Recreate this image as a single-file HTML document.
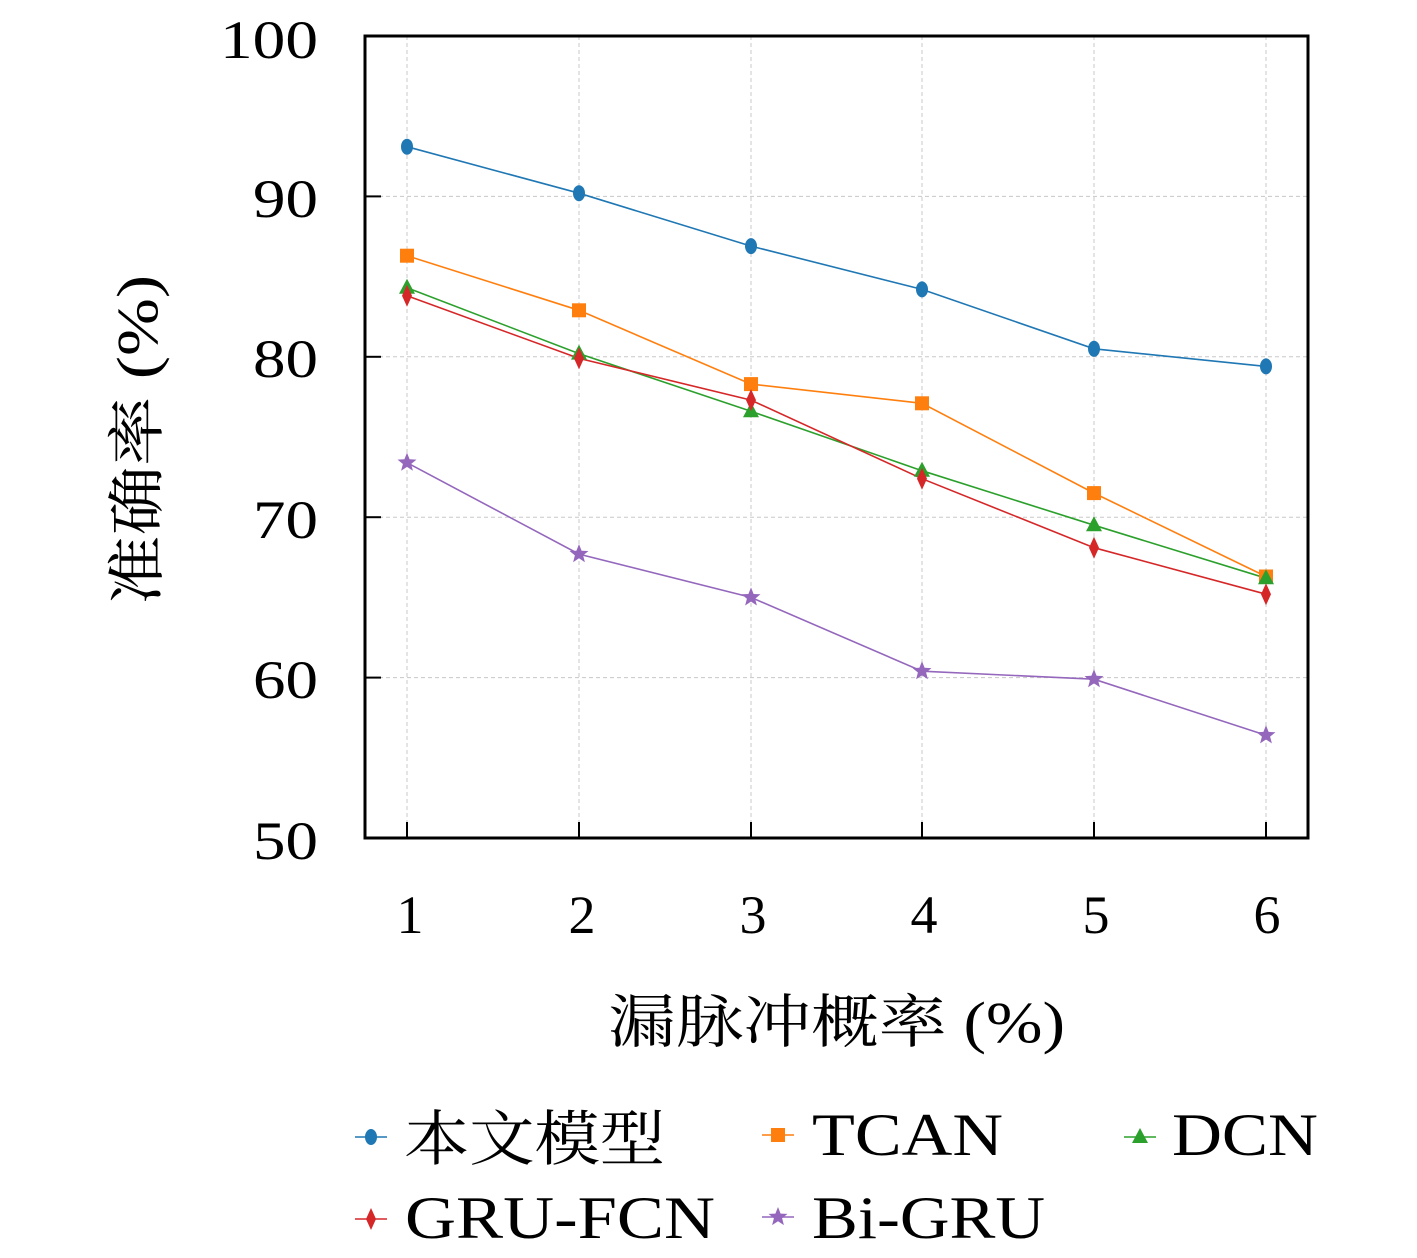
<!DOCTYPE html>
<html><head><meta charset="utf-8"><style>
html,body{margin:0;padding:0;background:#fff;}
svg{display:block;}
text{font-family:"Liberation Serif","Noto Serif CJK SC",serif;fill:#000;}
</style></head><body>
<svg width="1417" height="1258" viewBox="0 0 1417 1258" xmlns="http://www.w3.org/2000/svg">
<defs>
<g id="mc"><ellipse cx="0" cy="0" rx="6" ry="8"/></g>
<g id="ms"><rect x="-7" y="-7" width="14" height="14"/></g>
<g id="mt"><polygon points="0,-9 8,6 -8,6"/></g>
<g id="md"><polygon points="0,-11 5,0 0,11 -5,0"/></g>
<g id="mp"><polygon points="0,-10 2.6,-3.4 9.5,-3.1 4.1,1.3 5.9,8.1 0,4.2 -5.9,8.1 -4.1,1.3 -9.5,-3.1 -2.6,-3.4"/></g>
</defs>
<g stroke="#c8c8c8" stroke-width="1" stroke-dasharray="4,3">
<line x1="365" x2="1308" y1="196.4" y2="196.4"/>
<line x1="365" x2="1308" y1="356.8" y2="356.8"/>
<line x1="365" x2="1308" y1="517.2" y2="517.2"/>
<line x1="365" x2="1308" y1="677.6" y2="677.6"/>
<line x1="407" x2="407" y1="36" y2="838"/>
<line x1="579" x2="579" y1="36" y2="838"/>
<line x1="751" x2="751" y1="36" y2="838"/>
<line x1="922" x2="922" y1="36" y2="838"/>
<line x1="1094" x2="1094" y1="36" y2="838"/>
<line x1="1266" x2="1266" y1="36" y2="838"/>
</g>
<g stroke="#000" stroke-width="2">
<line x1="365" x2="381" y1="196.4" y2="196.4"/>
<line x1="365" x2="381" y1="356.8" y2="356.8"/>
<line x1="365" x2="381" y1="517.2" y2="517.2"/>
<line x1="365" x2="381" y1="677.6" y2="677.6"/>
<line x1="407" x2="407" y1="838" y2="822"/>
<line x1="579" x2="579" y1="838" y2="822"/>
<line x1="751" x2="751" y1="838" y2="822"/>
<line x1="922" x2="922" y1="838" y2="822"/>
<line x1="1094" x2="1094" y1="838" y2="822"/>
<line x1="1266" x2="1266" y1="838" y2="822"/>
</g>
<g fill="none" stroke-width="1.6">
<polyline stroke="#1f77b4" points="407,146.7 579,193.2 751,246.1 922,289.4 1094,348.8 1266,366.4"/>
<polyline stroke="#ff7f0e" points="407,255.7 579,310.3 751,384.1 922,403.3 1094,493.1 1266,576.5"/>
<polyline stroke="#2ca02c" points="407,287.8 579,353.6 751,411.3 922,470.7 1094,525.2 1266,578.2"/>
<polyline stroke="#d62728" points="407,295.8 579,358.4 751,400.1 922,478.7 1094,547.7 1266,594.2"/>
<polyline stroke="#9467bd" points="407,462.7 579,554.1 751,597.4 922,671.2 1094,679.2 1266,735.3"/>
</g>
<g fill="#1f77b4"><use href="#mc" x="407" y="146.7"/><use href="#mc" x="579" y="193.2"/><use href="#mc" x="751" y="246.1"/><use href="#mc" x="922" y="289.4"/><use href="#mc" x="1094" y="348.8"/><use href="#mc" x="1266" y="366.4"/></g>
<g fill="#ff7f0e"><use href="#ms" x="407" y="255.7"/><use href="#ms" x="579" y="310.3"/><use href="#ms" x="751" y="384.1"/><use href="#ms" x="922" y="403.3"/><use href="#ms" x="1094" y="493.1"/><use href="#ms" x="1266" y="576.5"/></g>
<g fill="#2ca02c"><use href="#mt" x="407" y="287.8"/><use href="#mt" x="579" y="353.6"/><use href="#mt" x="751" y="411.3"/><use href="#mt" x="922" y="470.7"/><use href="#mt" x="1094" y="525.2"/><use href="#mt" x="1266" y="578.2"/></g>
<g fill="#d62728"><use href="#md" x="407" y="295.8"/><use href="#md" x="579" y="358.4"/><use href="#md" x="751" y="400.1"/><use href="#md" x="922" y="478.7"/><use href="#md" x="1094" y="547.7"/><use href="#md" x="1266" y="594.2"/></g>
<g fill="#9467bd"><use href="#mp" x="407" y="462.7"/><use href="#mp" x="579" y="554.1"/><use href="#mp" x="751" y="597.4"/><use href="#mp" x="922" y="671.2"/><use href="#mp" x="1094" y="679.2"/><use href="#mp" x="1266" y="735.3"/></g>
<rect x="365" y="36" width="943" height="802" fill="none" stroke="#000" stroke-width="3"/>
<g font-size="54" lengthAdjust="spacingAndGlyphs">
<text x="220" y="58" textLength="98" lengthAdjust="spacingAndGlyphs">100</text>
<text x="253" y="217" textLength="65" lengthAdjust="spacingAndGlyphs">90</text>
<text x="253" y="377" textLength="65" lengthAdjust="spacingAndGlyphs">80</text>
<text x="253" y="538" textLength="65" lengthAdjust="spacingAndGlyphs">70</text>
<text x="253" y="698" textLength="65" lengthAdjust="spacingAndGlyphs">60</text>
<text x="253" y="859" textLength="65" lengthAdjust="spacingAndGlyphs">50</text>
</g>
<g font-size="54" text-anchor="middle">
<text x="410" y="933">1</text>
<text x="582" y="933">2</text>
<text x="753" y="933">3</text>
<text x="924" y="933">4</text>
<text x="1096" y="933">5</text>
<text x="1267" y="933">6</text>
</g>
<text x="608" y="1042" font-size="58" textLength="457" lengthAdjust="spacingAndGlyphs">漏脉冲概率 (%)</text>
<text transform="translate(157,605) rotate(-90)" font-size="58" textLength="330" lengthAdjust="spacingAndGlyphs">准确率 (%)</text>
<g stroke-width="1.6">
<line x1="355" x2="387" y1="1137" y2="1137" stroke="#1f77b4"/>
<line x1="762" x2="794" y1="1135" y2="1135" stroke="#ff7f0e"/>
<line x1="1124" x2="1156" y1="1137" y2="1137" stroke="#2ca02c"/>
<line x1="355" x2="387" y1="1219" y2="1219" stroke="#d62728"/>
<line x1="762" x2="794" y1="1217" y2="1217" stroke="#9467bd"/>
</g>
<use href="#mc" x="371" y="1137" fill="#1f77b4"/>
<use href="#ms" x="778" y="1135" fill="#ff7f0e"/>
<use href="#mt" x="1140" y="1137" fill="#2ca02c"/>
<use href="#md" x="371" y="1219" fill="#d62728"/>
<use href="#mp" x="778" y="1217" fill="#9467bd"/>
<g font-size="60">
<text x="404" y="1160" textLength="261" lengthAdjust="spacingAndGlyphs">本文模型</text>
<text x="812" y="1155" textLength="191" lengthAdjust="spacingAndGlyphs">TCAN</text>
<text x="1172" y="1155" textLength="146" lengthAdjust="spacingAndGlyphs">DCN</text>
<text x="405" y="1238" textLength="310" lengthAdjust="spacingAndGlyphs">GRU-FCN</text>
<text x="812" y="1238" textLength="233" lengthAdjust="spacingAndGlyphs">Bi-GRU</text>
</g>
</svg>
</body></html>
